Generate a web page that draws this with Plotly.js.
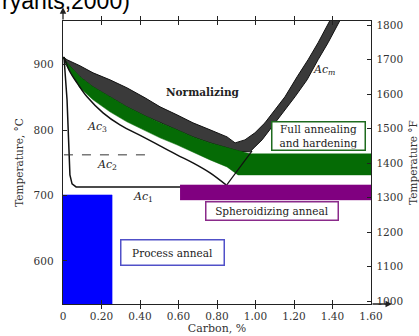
<!DOCTYPE html>
<html><head><meta charset="utf-8">
<script src="https://cdn.plot.ly/plotly-3.0.1.min.js"></script>
<style>html,body{margin:0;padding:0;background:#fff;overflow:hidden}#chart{width:419px;height:336px}</style>
</head><body><div id="chart"></div>
<script>
// ---- data (carbon %, temperature °C) ----
const xTickVals = [0, 0.2, 0.4, 0.6, 0.8, 1.0, 1.2, 1.4, 1.6];
const xTickText = ['0', '0.20', '0.40', '0.60', '0.80', '1.00', '1.20', '1.40', '1.60'];
const yTicksC = [600, 700, 800, 900];
const yTicksF = [1000, 1100, 1200, 1300, 1400, 1500, 1600, 1700, 1800];

// Normalizing band (dark)
const normC = [0.0, 0.021, 0.088, 0.156, 0.244, 0.332, 0.426, 0.504, 0.592, 0.675, 0.764, 0.852, 0.894, 0.945, 0.997, 1.049, 1.101, 1.153, 1.216, 1.273, 1.325, 1.397,
               1.449, 1.377, 1.325, 1.268, 1.205, 1.143, 1.086, 1.034, 0.997, 0.971, 0.919,
               0.852, 0.764, 0.675, 0.592, 0.504, 0.426, 0.332, 0.244, 0.156, 0.088, 0.021, 0.0];
const normT = [912, 907.7, 898.5, 887.7, 877.0, 864.8, 849.5, 835.7, 823.4, 811.2, 800.5, 789.7, 780.5, 785.1, 795.9, 811.2, 831.1, 851.0, 881.6, 907.7, 933.7, 973.5,
               973.5, 933.7, 907.7, 877.0, 851.0, 826.5, 805.1, 785.1, 774.4, 766.8, 767.5,
               772.9, 780.5, 789.7, 800.5, 811.2, 821.9, 835.7, 851.0, 866.3, 881.6, 903.1, 912];

// Full annealing & hardening band (green)
const fullC = [0.0, 0.021, 0.088, 0.156, 0.244, 0.332, 0.426, 0.504, 0.592, 0.675, 0.764, 0.852, 0.919, 0.971, 1.6,
               1.6, 0.909, 0.852, 0.764, 0.675, 0.592, 0.504, 0.426, 0.332, 0.244, 0.156, 0.088, 0.021, 0.0];
const fullT = [912, 903.1, 881.6, 866.3, 851.0, 835.7, 821.9, 811.2, 800.5, 789.7, 780.5, 772.9, 767.5, 763.7, 763.7,
               731.5, 731.5, 743.8, 754.5, 766.8, 777.5, 788.2, 798.9, 812.7, 828.0, 846.4, 864.8, 896.9, 912];

// Ac3 line
const ac3C = [0.005, 0.036, 0.073, 0.125, 0.208, 0.296, 0.416, 0.504, 0.592, 0.675, 0.764, 0.847];
const ac3T = [912, 889.3, 872.4, 851.0, 826.5, 808.1, 789.7, 775.9, 762.2, 749.9, 734.6, 716.2];

// A3 (low carbon) + Ac1 line
const ac1C = [0.005, 0.021, 0.031, 0.036, 0.047, 0.068, 0.847];
const ac1T = [912, 846.4, 769.8, 731.5, 717.8, 713.2, 713.2];

// Acm line (lower part)
const acmC = [0.847, 0.982];
const acmT = [714.7, 768.3];

// Ac2 (dashed)
const ac2C = [0.005, 0.452];
const ac2T = [762.2, 762.2];

// Process anneal (blue)
const procC = [-0.005, 0.255, 0.255, -0.005];
const procT = [700.9, 700.9, 520, 520];

// Spheroidizing anneal (purple)
const sphC = [0.608, 1.6, 1.6, 0.608];
const sphT = [716.2, 716.2, 693.3, 693.3];

const regionLabels = ['Normalizing', 'Full annealing<br>and hardening', 'Spheroidizing anneal', 'Process anneal'];
const lineLabels = ['<i>Ac</i><sub><i>m</i></sub>', '<i>Ac</i><sub>3</sub>', '<i>Ac</i><sub>2</sub>', '<i>Ac</i><sub>1</sub>'];

// ---- chart ----
const SERIF = 'DejaVu Serif, serif';
const traces = [
  {x: normC, y: normT, mode: 'lines', fill: 'toself', fillcolor: '#3a3a3a', line: {color: '#111', width: 1}},
  {x: fullC, y: fullT, mode: 'lines', fill: 'toself', fillcolor: '#056b05', line: {color: '#056b05', width: 0.5}},
  {x: ac3C, y: ac3T, mode: 'lines', line: {color: '#111', width: 1.5, shape: 'spline'}},
  {x: ac1C, y: ac1T, mode: 'lines', line: {color: '#111', width: 1.5}},
  {x: acmC, y: acmT, mode: 'lines', line: {color: '#111', width: 1.2}},
  {x: ac2C, y: ac2T, mode: 'lines', line: {color: '#333', width: 1, dash: 'dash'}},
  {x: procC, y: procT, mode: 'lines', fill: 'toself', fillcolor: '#0000ff', line: {color: '#0000ff', width: 0.5}},
  {x: sphC, y: sphT, mode: 'lines', fill: 'toself', fillcolor: '#800080', line: {color: '#800080', width: 0.5}},
  {x: [null], y: [null], yaxis: 'y2', mode: 'markers'}
];

const tickFont = {family: SERIF, size: 10.5, color: '#333'};
const layout = {
  width: 419, height: 336,
  margin: {l: 63, r: 48, t: 21, b: 32, pad: 0},
  paper_bgcolor: '#fff', plot_bgcolor: '#fff',
  showlegend: false,
  xaxis: {
    range: [0, 1.6], tickvals: xTickVals, ticktext: xTickText,
    ticks: 'inside', ticklen: 4, tickcolor: '#222', mirror: 'allticks',
    showline: true, linecolor: '#222', linewidth: 1.3,
    showgrid: false, zeroline: false, automargin: false,
    tickfont: tickFont, ticklabelstandoff: 2,
    title: {text: 'Carbon, %', font: {family: SERIF, size: 11, color: '#333'}, standoff: 3}
  },
  yaxis: {
    range: [534, 967], tickvals: yTicksC,
    ticks: 'inside', ticklen: 4, tickcolor: '#222',
    showline: true, linecolor: '#222', linewidth: 1.3,
    showgrid: false, zeroline: false, automargin: false,
    tickfont: tickFont, ticklabelstandoff: 6,
    title: {text: 'Temperature, °C', font: {family: SERIF, size: 10.5, color: '#333'}, standoff: 8}
  },
  yaxis2: {
    overlaying: 'y', side: 'right', range: [992, 1812], tickvals: yTicksF,
    ticks: 'inside', ticklen: 4, tickcolor: '#222',
    showline: true, linecolor: '#222', linewidth: 1.3,
    showgrid: false, zeroline: false, automargin: false,
    tickfont: tickFont, ticklabelstandoff: 2,
    title: {text: 'Temperature °F', font: {family: SERIF, size: 10.5, color: '#333'}, standoff: 9}
  },
  annotations: [
    {text: regionLabels[0], x: 0.727, y: 858.7, showarrow: false, font: {family: SERIF, size: 10.5, color: '#222', weight: 'bold'}},
    {text: regionLabels[1], x: 1.325, y: 791.3, showarrow: false, font: {family: SERIF, size: 10.5, color: '#222'},
     bgcolor: '#fff', bordercolor: '#1e6b1e', borderwidth: 1.5, borderpad: 1, width: 90, height: 25},
    {text: regionLabels[2], x: 1.086, y: 676.4, showarrow: false, font: {family: SERIF, size: 10.5, color: '#222'},
     bgcolor: '#fff', bordercolor: '#8a2a8a', borderwidth: 1.5, borderpad: 1, width: 129, height: 15},
    {text: regionLabels[3], x: 0.569, y: 612.9, showarrow: false, font: {family: SERIF, size: 10.5, color: '#222'},
     bgcolor: '#fff', bordercolor: '#5050c8', borderwidth: 1.5, borderpad: 1, width: 100, height: 22},
    {text: lineLabels[0], x: 1.356, y: 892.3, showarrow: false, font: {family: SERIF, size: 11, color: '#222'}},
    {text: lineLabels[1], x: 0.177, y: 805.1, showarrow: false, font: {family: SERIF, size: 11, color: '#222'}},
    {text: lineLabels[2], x: 0.229, y: 746.9, showarrow: false, font: {family: SERIF, size: 11, color: '#222'}},
    {text: lineLabels[3], x: 0.416, y: 697.9, showarrow: false, font: {family: SERIF, size: 11, color: '#222'}},
    {text: 'ryants,2000)', xref: 'paper', yref: 'paper', x: -0.2045, y: 1.019, xanchor: 'left', yanchor: 'bottom',
     showarrow: false, font: {family: 'Liberation Sans, Arial, sans-serif', size: 23, color: '#000'}},
    {text: '', x: 0, y: 988, ax: 0, ay: 967, axref: 'x', ayref: 'y', showarrow: true,
     arrowhead: 2, arrowsize: 1, arrowwidth: 1.3, arrowcolor: '#222'},
    {text: '', x: 1.709, y: 534, ax: 1.6, ay: 534, axref: 'x', ayref: 'y', showarrow: true,
     arrowhead: 2, arrowsize: 1, arrowwidth: 1.3, arrowcolor: '#222'}
  ]
};

Plotly.newPlot('chart', traces, layout, {staticPlot: true, displayModeBar: false});
</script></body></html>
